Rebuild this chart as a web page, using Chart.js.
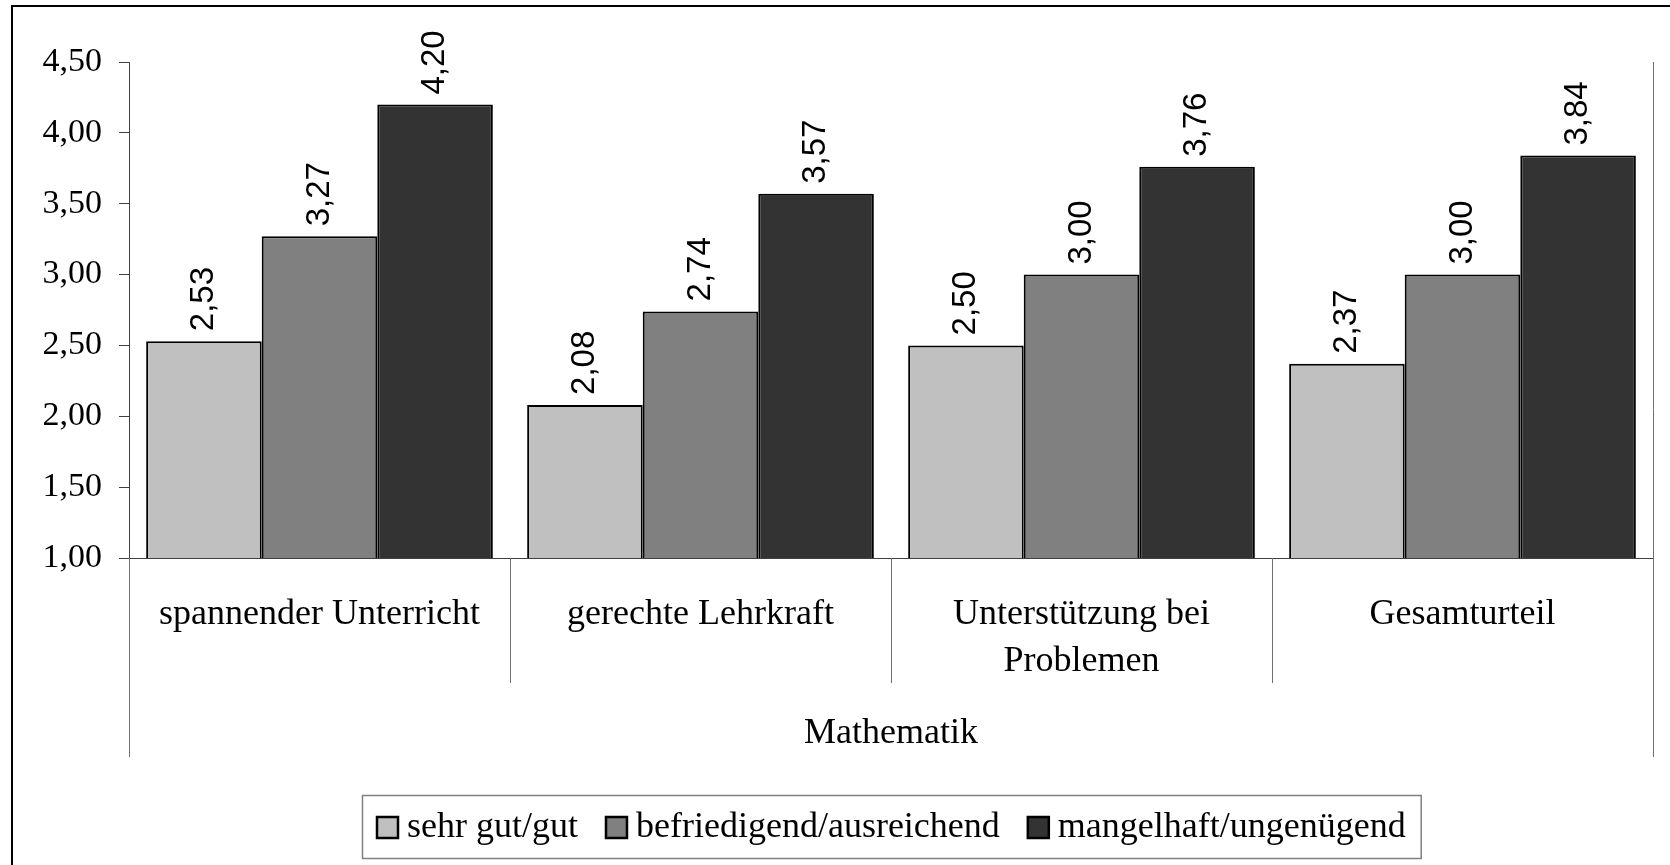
<!DOCTYPE html>
<html lang="de">
<head>
<meta charset="utf-8">
<title>Mathematik</title>
<script src="https://cdn.jsdelivr.net/npm/chart.js@4.4.1/dist/chart.umd.min.js"></script>
<style>
  html, body { margin: 0; padding: 0; background: #fff; }
  #wrap { width: 1670px; height: 865px; overflow: hidden; }
  canvas { display: block; }
</style>
</head>
<body>
<div id="wrap"><canvas id="mathChart" width="1670" height="865"></canvas></div>
<script>
// Kategorien und Mittelwerte je Notengruppe
const categories = ['spannender Unterricht', 'gerechte Lehrkraft', ['Unterstützung bei', 'Problemen'], 'Gesamturteil'];
const groupLabel = 'Mathematik';
const seriesNames = ['sehr gut/gut', 'befriedigend/ausreichend', 'mangelhaft/ungenügend'];
const sehrGutGut = [2.53, 2.08, 2.50, 2.37];
const befriedigendAusreichend = [3.27, 2.74, 3.00, 3.00];
const mangelhaftUngenuegend = [4.20, 3.57, 3.76, 3.84];
const yTicks = [1.00, 1.50, 2.00, 2.50, 3.00, 3.50, 4.00, 4.50];

const serif = '"Liberation Serif", "Times New Roman", serif';
const sans = '"Liberation Sans", Arial, sans-serif';
const textFont = `36px ${serif}`;

Chart.defaults.font.family = serif;
Chart.defaults.color = '#000';

// Zahlen mit Dezimalkomma
function formatDe(v) {
  return Number(v).toFixed(2).replace('.', ',');
}

// Rahmen um das ganze Diagramm
const chartFrame = {
  id: 'chartFrame',
  beforeDraw(chart) {
    const ctx = chart.ctx;
    ctx.save();
    ctx.fillStyle = '#fff';
    ctx.fillRect(0, 0, chart.width, chart.height);
    ctx.strokeStyle = '#000';
    ctx.lineWidth = 2;
    ctx.strokeRect(12, 6, chart.width + 50, chart.height + 50);
    ctx.restore();
  }
};

// Trennlinien der Kategorien, Gruppenbeschriftung und Legende
const categoryAxis = {
  id: 'categoryAxis',
  afterDraw(chart) {
    const { ctx, chartArea: area, scales: { x } } = chart;
    const half = (x.getPixelForValue(1) - x.getPixelForValue(0)) / 2;
    const shortDrop = 125;
    const longDrop = 199;
    const cx = (area.left + area.right) / 2;

    ctx.save();
    ctx.strokeStyle = '#707070';
    ctx.lineWidth = 1;
    ctx.beginPath();
    for (let i = 1; i < categories.length; i++) {
      const px = Math.round(x.getPixelForValue(i) - half) + 0.5;
      ctx.moveTo(px, area.bottom);
      ctx.lineTo(px, area.bottom + shortDrop);
    }
    const lx = Math.round(area.left) + 0.5;
    const rx = Math.round(area.right) + 0.5;
    ctx.moveTo(lx, area.bottom);
    ctx.lineTo(lx, area.bottom + longDrop);
    ctx.moveTo(rx, area.top);
    ctx.lineTo(rx, area.bottom + longDrop);
    ctx.stroke();

    // Gruppenname unter den Kategorien
    ctx.font = textFont;
    ctx.fillStyle = '#000';
    ctx.textAlign = 'center';
    ctx.textBaseline = 'middle';
    ctx.fillText(groupLabel, cx, area.bottom + 176);

    // Legende
    const boxSize = 21, gapText = 9, gapItem = 28, padX = 15;
    ctx.font = textFont;
    const items = chart.data.datasets.map(ds => ({
      label: ds.label,
      color: ds.backgroundColor,
      width: ctx.measureText(ds.label).width
    }));
    let total = padX * 2 + gapItem * (items.length - 1);
    items.forEach(it => { total += boxSize + gapText + it.width; });
    const left = Math.round(cx - total / 2);
    const top = Math.round(area.bottom + 237);
    const h = 63;
    ctx.strokeStyle = '#808080';
    ctx.lineWidth = 1.5;
    ctx.strokeRect(left + 0.5, top + 0.5, total, h);

    let pos = left + padX;
    const midY = top + h / 2 + 1;
    items.forEach(it => {
      ctx.fillStyle = it.color;
      ctx.fillRect(pos, midY - boxSize / 2, boxSize, boxSize);
      ctx.strokeStyle = '#000';
      ctx.lineWidth = 2.5;
      ctx.strokeRect(pos, midY - boxSize / 2, boxSize, boxSize);
      pos += boxSize + gapText;
      ctx.font = textFont;
      ctx.fillStyle = '#000';
      ctx.textAlign = 'left';
      ctx.textBaseline = 'middle';
      ctx.fillText(it.label, pos, midY);
      pos += it.width + gapItem;
    });
    ctx.restore();
  }
};

// Werte senkrecht über den Balken
const valueLabels = {
  id: 'valueLabels',
  afterDatasetsDraw(chart) {
    const ctx = chart.ctx;
    ctx.save();
    ctx.font = `33px ${sans}`;
    ctx.fillStyle = '#000';
    ctx.textAlign = 'left';
    ctx.textBaseline = 'middle';
    chart.data.datasets.forEach((ds, i) => {
      chart.getDatasetMeta(i).data.forEach((bar, j) => {
        ctx.save();
        ctx.translate(bar.x, bar.y - 10);
        ctx.rotate(-Math.PI / 2);
        ctx.fillText(formatDe(ds.data[j]), 0, 0);
        ctx.restore();
      });
    });
    ctx.restore();
  }
};

new Chart(document.getElementById('mathChart'), {
  type: 'bar',
  data: {
    labels: categories,
    datasets: [
      { label: seriesNames[0], data: sehrGutGut, backgroundColor: '#c0c0c0' },
      { label: seriesNames[1], data: befriedigendAusreichend, backgroundColor: '#808080' },
      { label: seriesNames[2], data: mangelhaftUngenuegend, backgroundColor: '#333333' }
    ]
  },
  options: {
    responsive: false,
    animation: false,
    layout: { padding: { top: 62, right: 17, left: 0, bottom: 0 } },
    datasets: {
      bar: {
        borderColor: '#000',
        borderWidth: 2,
        borderSkipped: false,
        barPercentage: 1,
        categoryPercentage: 0.91
      }
    },
    plugins: {
      legend: { display: false },
      tooltip: { enabled: false }
    },
    scales: {
      x: {
        grid: { display: true, drawOnChartArea: false, drawTicks: false },
        border: { display: true, color: '#404040', width: 1 },
        ticks: {
          font: { family: serif, size: 36, lineHeight: 1.3 },
          color: '#000',
          padding: 33,
          maxRotation: 0,
          autoSkip: false
        },
        afterFit(scale) { scale.height = 307; }
      },
      y: {
        min: yTicks[0],
        max: yTicks[yTicks.length - 1],
        afterBuildTicks(scale) { scale.ticks = yTicks.map(v => ({ value: v })); },
        grid: { drawOnChartArea: false, drawTicks: true, tickLength: 10, color: '#404040' },
        border: { display: true, color: '#404040', width: 1 },
        ticks: {
          font: { family: serif, size: 34 },
          color: '#000',
          padding: 17,
          callback: v => formatDe(v)
        },
        afterFit(scale) { scale.width = 129; }
      }
    }
  },
  plugins: [chartFrame, categoryAxis, valueLabels]
});
</script>
</body>
</html>
